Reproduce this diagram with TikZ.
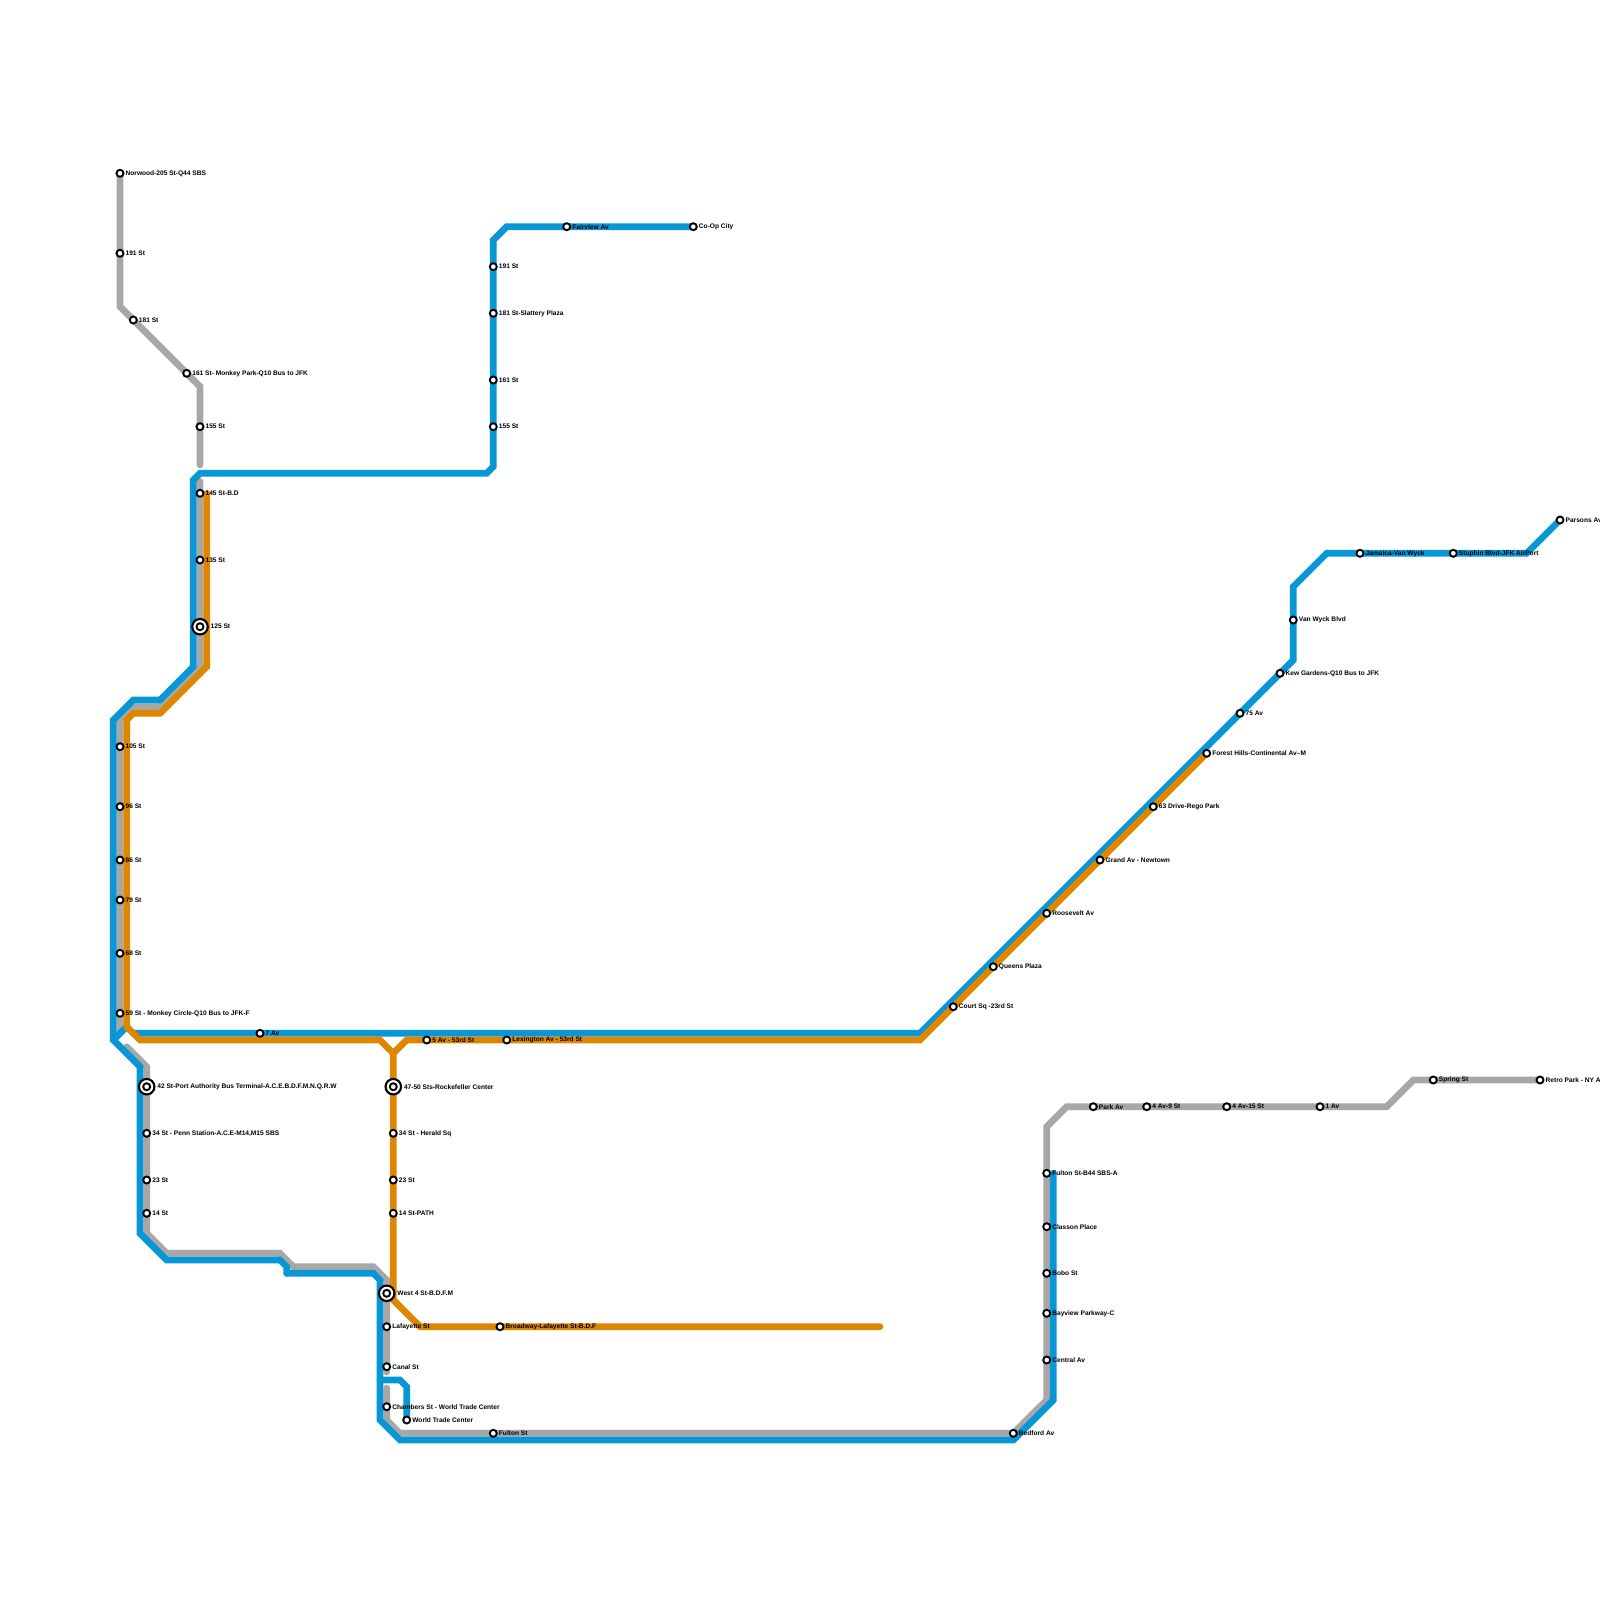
\documentclass[tikz,border=0pt]{standalone}
\usepackage{fontspec}
\setmainfont{Liberation Sans}
\usepackage{tikz}
\usetikzlibrary{positioning}
\definecolor{azul}{HTML}{0896D7}
\definecolor{cinza}{HTML}{A7A7A7}
\definecolor{laranja}{HTML}{DF8600}

\begin{document}
\begin{tikzpicture}[x=1pt,y=-1pt,
        node distance=0pt,
        linha/.style={line width=6.67pt,line cap=round,line join=miter},
        parada/.style={circle,draw=black,fill=white,line width=1.9pt,minimum size=7pt,inner sep=0pt},
        troca/.style={circle,draw=black,fill=white,line width=2.1pt,minimum size=15.5pt,inner sep=0pt},
        rotulo/.style={font=\fontsize{6.6pt}{7pt}\selectfont\bfseries,inner sep=1pt,text=black}]
      \useasboundingbox (0,0) rectangle (1600,1600);
      % gray line, bends
      \coordinate (g0) at (120,173.3); \coordinate (g1) at (120,306.7); \coordinate (g2) at (200,386.7); \coordinate (g3) at (200,465);
      \coordinate (g4) at (200,481.5); \coordinate (g5) at (200,666.7); \coordinate (g6) at (160,706.7); \coordinate (g7) at (133.3,706.7);
      \coordinate (g8) at (120,720); \coordinate (g9) at (120,1031.7);
      \coordinate (g10) at (126.7,1046.7); \coordinate (g11) at (146.7,1066.7); \coordinate (g12) at (146.7,1233.3); \coordinate (g13) at (166.7,1253.3);
      \coordinate (g14) at (280,1253.3); \coordinate (g15) at (293.3,1266.7); \coordinate (g16) at (373.3,1266.7); \coordinate (g17) at (386.7,1280);
      \coordinate (g18) at (386.7,1372); \coordinate (g19) at (386.7,1388); \coordinate (g20) at (386.7,1420); \coordinate (g21) at (400,1433.3);
      \coordinate (g22) at (1013.3,1433.3); \coordinate (g23) at (1046.7,1400); \coordinate (g24) at (1046.7,1126.7); \coordinate (g25) at (1066.7,1106.7);
      \coordinate (g26) at (1386.7,1106.7); \coordinate (g27) at (1413.3,1080); \coordinate (g28) at (1540,1080);
      % blue line, bends
      \coordinate (b0) at (693.3,226.7); \coordinate (b1) at (506.7,226.7); \coordinate (b2) at (493.3,240); \coordinate (b3) at (493.3,466.7);
      \coordinate (b4) at (486.7,473.3); \coordinate (b5) at (200,473.3); \coordinate (b6) at (193.3,480); \coordinate (b7) at (193.3,666.7);
      \coordinate (b8) at (160,700); \coordinate (b9) at (133.3,700); \coordinate (b10) at (113.3,720); \coordinate (b11) at (113.3,1040);
      \coordinate (b12) at (140,1066.7); \coordinate (b13) at (140,1233.3); \coordinate (b14) at (166.7,1260); \coordinate (b15) at (280,1260);
      \coordinate (b16) at (286.7,1266.7); \coordinate (b17) at (286.7,1273.3); \coordinate (b18) at (373.3,1273.3); \coordinate (b19) at (380,1280);
      \coordinate (b20) at (380,1420); \coordinate (b21) at (400,1440); \coordinate (b22) at (1013.3,1440); \coordinate (b23) at (1053.3,1400);
      \coordinate (b24) at (1053.3,1173.3);
      \coordinate (b25) at (126.7,1026.7); \coordinate (b26) at (133.3,1033.3); \coordinate (b27) at (920,1033.3); \coordinate (b28) at (1293.3,660);
      \coordinate (b29) at (1293.3,586.7); \coordinate (b30) at (1326.7,553.3); \coordinate (b31) at (1526.7,553.3); \coordinate (b32) at (1560,520);
      \coordinate (b33) at (380,1380); \coordinate (b34) at (400,1380); \coordinate (b35) at (406.7,1386.7); \coordinate (b36) at (406.7,1420);
      % orange line, bends
      \coordinate (o0) at (206.7,493.3); \coordinate (o1) at (206.7,666.7); \coordinate (o2) at (160,713.3); \coordinate (o3) at (133.3,713.3);
      \coordinate (o4) at (126.7,720); \coordinate (o5) at (126.7,1026.7); \coordinate (o6) at (140,1040); \coordinate (o7) at (380,1040);
      \coordinate (o8) at (393.3,1053.3); \coordinate (o9) at (406.7,1040); \coordinate (o10) at (920,1040); \coordinate (o11) at (1206.7,753.3);
      \coordinate (o12) at (393.3,1300); \coordinate (o13) at (420,1326.7); \coordinate (o14) at (880,1326.7);
      % lines
      \draw[linha,cinza](g0)--(g1)--(g2)--(g3);
      \draw[linha,cinza](g4)--(g5)--(g6)--(g7)--(g8)--(g9);
      \draw[linha,cinza](g10)--(g11)--(g12)--(g13)--(g14)--(g15)--(g16)--(g17)--(g18);
      \draw[linha,cinza](g19)--(g20)--(g21)--(g22)--(g23)--(g24)--(g25)--(g26)--(g27)--(g28);
      \draw[linha,azul](b0)--(b1)--(b2)--(b3)--(b4)--(b5)--(b6)--(b7)--(b8)--(b9)--(b10)--(b11)--(b12)--(b13)--(b14)--(b15)--(b16)--(b17);
      \draw[linha,azul](b17)--(b18)--(b19)--(b20)--(b21)--(b22)--(b23)--(b24);
      \draw[linha,azul](b11)--(b25)--(b26)--(b27)--(b28)--(b29)--(b30)--(b31)--(b32);
      \draw[linha,azul](b33)--(b34)--(b35)--(b36);
      \draw[linha,laranja](o0)--(o1)--(o2)--(o3)--(o4)--(o5)--(o6)--(o7)--(o8)--(o9)--(o10)--(o11);
      \draw[linha,laranja](o8)--(o12)--(o13)--(o14);
      % north-west stations
      \node[parada] (norwood) at (120,173.3) {}; \node[rotulo,right=of norwood] (norwoodt) {Norwood-205 St-Q44 SBS};
      \node[parada] (a191) at (120,253.3) {}; \node[rotulo,right=of a191] (a191t) {191 St};
      \node[parada] (a181) at (133.3,320) {}; \node[rotulo,right=of a181] (a181t) {181 St};
      \node[parada] (a161) at (186.7,373.3) {}; \node[rotulo,right=of a161] (a161t) {161 St- Monkey Park-Q10 Bus to JFK};
      \node[parada] (a155) at (200,426.7) {}; \node[rotulo,right=of a155] (a155t) {155 St};
      \node[parada] (a145) at (200,493.3) {}; \node[rotulo,right=of a145] (a145t) {145 St-B.D};
      \node[parada] (a135) at (200,560) {}; \node[rotulo,right=of a135] (a135t) {135 St};
      \node[troca] (a125) at (200,626.7) {}; \node[parada] (a125i) at (a125) {}; \node[rotulo,right=0.7pt of a125] (a125t) {125 St};
      % avenue stations
      \node[parada] (c105) at (120,746.7) {}; \node[rotulo,right=of c105] (c105t) {105 St};
      \node[parada] (c96) at (120,806.7) {}; \node[rotulo,right=of c96] (c96t) {96 St};
      \node[parada] (c86) at (120,860) {}; \node[rotulo,right=of c86] (c86t) {86 St};
      \node[parada] (c79) at (120,900) {}; \node[rotulo,right=of c79] (c79t) {79 St};
      \node[parada] (c68) at (120,953.3) {}; \node[rotulo,right=of c68] (c68t) {68 St};
      \node[parada] (c59) at (120,1013.3) {}; \node[rotulo,right=of c59] (c59t) {59 St - Monkey Circle-Q10 Bus to JFK-F};
      \node[parada] (s7) at (260,1033.3) {}; \node[rotulo,right=of s7] (s7t) {7 Av};
      \node[troca] (c42) at (146.7,1086.7) {}; \node[parada] (c42i) at (c42) {}; \node[rotulo,right=0.7pt of c42] (c42t) {42 St-Port Authority Bus Terminal-A.C.E.B.D.F.M.N.Q.R.W};
      \node[parada] (c34) at (146.7,1133.3) {}; \node[rotulo,right=of c34] (c34t) {34 St - Penn Station-A.C.E-M14,M15 SBS};
      \node[parada] (c23) at (146.7,1180) {}; \node[rotulo,right=of c23] (c23t) {23 St};
      \node[parada] (c14) at (146.7,1213.3) {}; \node[rotulo,right=of c14] (c14t) {14 St};
      % midtown and downtown
      \node[parada] (av5) at (426.7,1040) {}; \node[rotulo,right=of av5] (av5t) {5 Av - 53rd St};
      \node[parada] (lex) at (506.7,1040) {}; \node[rotulo,right=of lex] (lext) {Lexington Av - 53rd St};
      \node[troca] (rock) at (393.3,1086.7) {}; \node[parada] (rocki) at (rock) {}; \node[rotulo,right=0.7pt of rock] (rockt) {47-50 Sts-Rockefeller Center};
      \node[parada] (herald) at (393.3,1133.3) {}; \node[rotulo,right=of herald] (heraldt) {34 St - Herald Sq};
      \node[parada] (d23) at (393.3,1180) {}; \node[rotulo,right=of d23] (d23t) {23 St};
      \node[parada] (d14) at (393.3,1213.3) {}; \node[rotulo,right=of d14] (d14t) {14 St-PATH};
      \node[troca] (w4) at (386.7,1293.3) {}; \node[parada] (w4i) at (w4) {}; \node[rotulo,right=0.7pt of w4] (w4t) {West 4 St-B.D.F.M};
      \node[parada] (lafa) at (386.7,1326.7) {}; \node[rotulo,right=of lafa] (lafat) {Lafayette St};
      \node[parada] (bway) at (500,1326.7) {}; \node[rotulo,right=of bway] (bwayt) {Broadway-Lafayette St-B.D.F};
      \node[parada] (canal) at (386.7,1366.7) {}; \node[rotulo,right=of canal] (canalt) {Canal St};
      \node[parada] (chamb) at (386.7,1406.7) {}; \node[rotulo,right=of chamb] (chambt) {Chambers St - World Trade Center};
      \node[parada] (wtc) at (406.7,1420) {}; \node[rotulo,right=of wtc] (wtct) {World Trade Center};
      \node[parada] (fulton) at (493.3,1433.3) {}; \node[rotulo,right=of fulton] (fultont) {Fulton St};
      \node[parada] (bedford) at (1013.3,1433.3) {}; \node[rotulo,right=of bedford] (bedfordt) {Bedford Av};
      % upper blue stations
      \node[parada] (b191) at (493.3,266.7) {}; \node[rotulo,right=of b191] (b191t) {191 St};
      \node[parada] (b181) at (493.3,313.3) {}; \node[rotulo,right=of b181] (b181t) {181 St-Slattery Plaza};
      \node[parada] (b161) at (493.3,380) {}; \node[rotulo,right=of b161] (b161t) {161 St};
      \node[parada] (b155) at (493.3,426.7) {}; \node[rotulo,right=of b155] (b155t) {155 St};
      \node[parada] (fair) at (566.7,226.7) {}; \node[rotulo,right=of fair] (fairt) {Fairview Av};
      \node[parada] (coop) at (693.3,226.7) {}; \node[rotulo,right=of coop] (coopt) {Co-Op City};
      % queens
      \node[parada] (court) at (953.3,1006.7) {}; \node[rotulo,right=of court] (courtt) {Court Sq -23rd St};
      \node[parada] (qplaza) at (993.3,966.7) {}; \node[rotulo,right=of qplaza] (qplazat) {Queens Plaza};
      \node[parada] (roos) at (1046.7,913.3) {}; \node[rotulo,right=of roos] (roost) {Roosevelt Av};
      \node[parada] (grand) at (1100,860) {}; \node[rotulo,right=of grand] (grandt) {Grand Av - Newtown};
      \node[parada] (rego) at (1153.3,806.7) {}; \node[rotulo,right=of rego] (regot) {63 Drive-Rego Park};
      \node[parada] (forest) at (1206.7,753.3) {}; \node[rotulo,right=of forest] (forestt) {Forest Hills-Continental Av--M};
      \node[parada] (av75) at (1240,713.3) {}; \node[rotulo,right=of av75] (av75t) {75 Av};
      \node[parada] (kew) at (1280,673.3) {}; \node[rotulo,right=of kew] (kewt) {Kew Gardens-Q10 Bus to JFK};
      \node[parada] (vanw) at (1293.3,620) {}; \node[rotulo,right=of vanw] (vanwt) {Van Wyck Blvd};
      \node[parada] (jam) at (1360,553.3) {}; \node[rotulo,right=of jam] (jamt) {Jamaica-Van Wyck};
      \node[parada] (sut) at (1453.3,553.3) {}; \node[rotulo,right=of sut] (sutt) {Stuphin Blvd-JFK AirPort};
      \node[parada] (pars) at (1560,520) {}; \node[rotulo,right=of pars] (parst) {Parsons Av};
      % brooklyn
      \node[parada] (centr) at (1046.7,1360) {}; \node[rotulo,right=of centr] (centrt) {Central Av};
      \node[parada] (bay) at (1046.7,1313.3) {}; \node[rotulo,right=of bay] (bayt) {Bayview Parkway-C};
      \node[parada] (bobo) at (1046.7,1273.3) {}; \node[rotulo,right=of bobo] (bobot) {Bobo St};
      \node[parada] (clas) at (1046.7,1226.7) {}; \node[rotulo,right=of clas] (clast) {Classon Place};
      \node[parada] (fb44) at (1046.7,1173.3) {}; \node[rotulo,right=of fb44] (fb44t) {Fulton St-B44 SBS-A};
      \node[parada] (park) at (1093.3,1106.7) {}; \node[rotulo,right=of park] (parkt) {Park Av};
      \node[parada] (av49) at (1146.7,1106.7) {}; \node[rotulo,right=of av49] (av49t) {4 Av-9 St};
      \node[parada] (av415) at (1226.7,1106.7) {}; \node[rotulo,right=of av415] (av415t) {4 Av-15 St};
      \node[parada] (av1) at (1320,1106.7) {}; \node[rotulo,right=of av1] (av1t) {1 Av};
      \node[parada] (spring) at (1433.3,1080) {}; \node[rotulo,right=of spring] (springt) {Spring St};
      \node[parada] (retro) at (1540,1080) {}; \node[rotulo,right=of retro] (retrot) {Retro Park - NY A};
    \end{tikzpicture}
\end{document}
